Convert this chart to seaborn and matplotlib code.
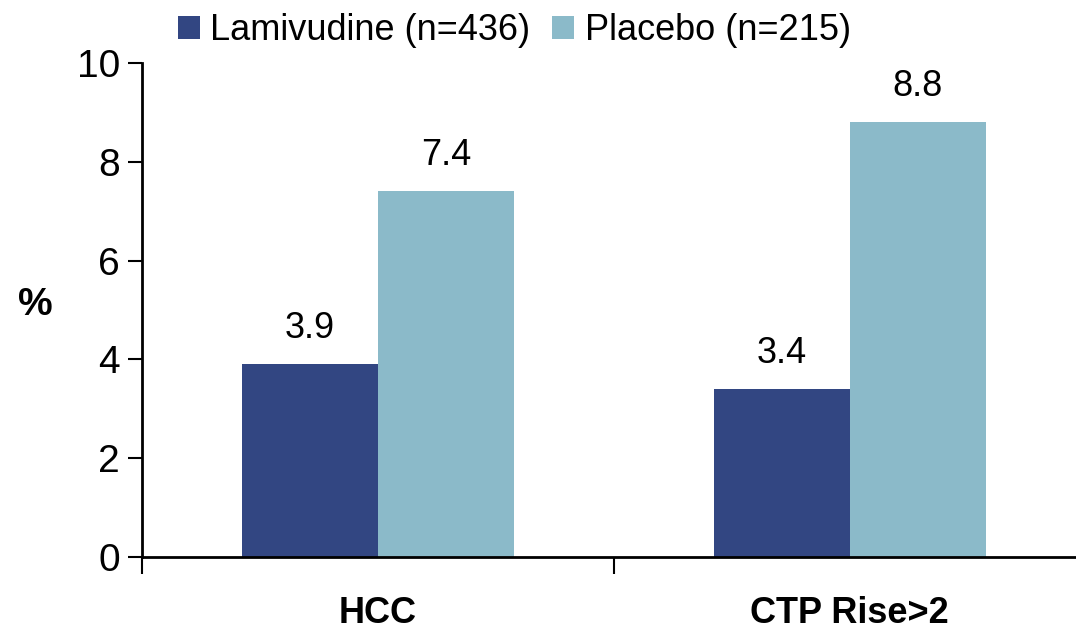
import matplotlib
matplotlib.use("Agg")
import matplotlib.pyplot as plt
import seaborn as sns
import pandas as pd
from matplotlib.patches import Patch
from matplotlib.ticker import FixedLocator

categories = ["HCC", "CTP Rise>2"]
series_names = ["Lamivudine (n=436)", "Placebo (n=215)"]
lamivudine = [3.9, 3.4]
placebo = [7.4, 8.8]
colors = ["#324682", "#8bbac9"]
yticks = [0, 2, 4, 6, 8, 10]

sns.set_theme(style="white", rc={"text.color": "black", "axes.labelcolor": "black",
                                 "xtick.color": "black", "ytick.color": "black"})
plt.rcParams['font.family'] = ['Liberation Sans Narrow', 'Liberation Sans', 'DejaVu Sans']

df = pd.DataFrame({
    "category": categories * 2,
    "series": [series_names[0]] * 2 + [series_names[1]] * 2,
    "value": lamivudine + placebo,
})

fig = plt.figure(figsize=(10.76, 6.33), dpi=100)
ax = fig.add_axes([0.132, 0.12, 0.877, 0.7805])
sns.barplot(data=df, x="category", y="value", hue="series", palette=colors,
            width=0.576, saturation=1, ax=ax, legend=False, errorbar=None,
            linewidth=0, edgecolor="none")

for cont in ax.containers:
    ax.bar_label(cont, fmt="%.1f", padding=13, fontsize=26, color="black")

ax.set_xlim(-0.5, 1.5)
ax.set_ylim(0, 10)
ax.set_yticks(yticks)
ax.set_yticklabels([str(t) for t in yticks], fontsize=28)
ax.tick_params(axis="y", direction="out", length=10, width=1.5, pad=6, left=True,
               color="black", labelcolor="black")
ax.set_xticks([0, 1])
ax.set_xticklabels(categories, fontsize=26, fontweight="bold")
ax.tick_params(axis="x", which="major", length=0, pad=28, labelcolor="black")
ax.xaxis.set_minor_locator(FixedLocator([-0.5, 0.5, 1.5]))
ax.tick_params(axis="x", which="minor", direction="out", length=12, width=1.5, bottom=True, color="black")
ax.set_xlabel("")
ax.set_ylabel("%", fontsize=28, fontweight="bold", rotation=0, va="center", ha="center", color="black")
ax.yaxis.set_label_coords(-0.113, 0.51)

for s in ["top", "right"]:
    ax.spines[s].set_visible(False)
for s in ["left", "bottom"]:
    ax.spines[s].set_color("black")
    ax.spines[s].set_linewidth(2)

handles = [Patch(facecolor=c, edgecolor="none") for c in colors]
fig.legend(handles, series_names, loc="center", bbox_to_anchor=(0.478, 0.952), ncol=2,
           frameon=False, fontsize=26, handlelength=0.6, handleheight=0.6,
           handletextpad=0.3, columnspacing=0.6, labelcolor="black")

fig.savefig("out.png", dpi=100)
